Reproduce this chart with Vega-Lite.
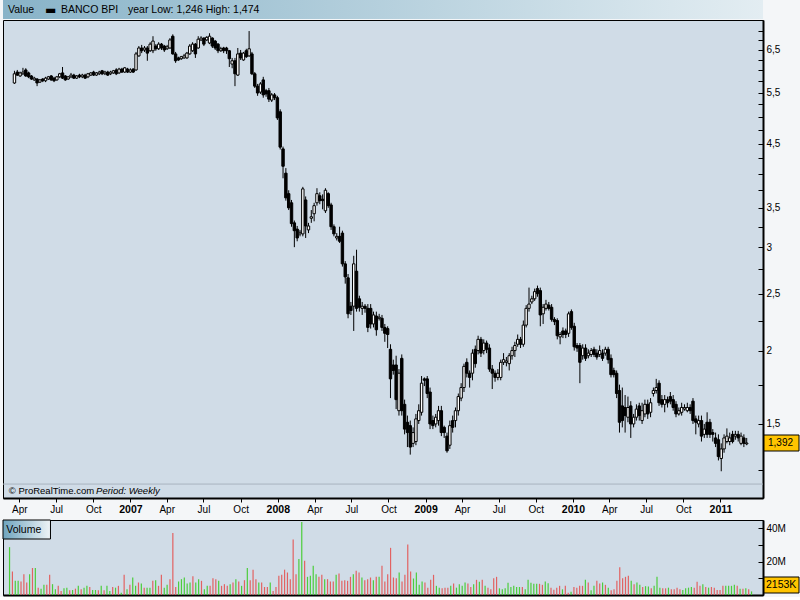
{
"$schema": "https://vega.github.io/schema/vega-lite/v6.json",
"background": "#f4f6f8",
"padding": {"left": 2, "top": 0, "right": 0, "bottom": 0},
"spacing": 4,
"resolve": {"scale": {"x": "independent", "y": "independent"}},
"config": {
  "view": {"stroke": "black", "strokeWidth": 1, "fill": "#d0dce7"},
  "axis": {"labelFont": "Liberation Sans", "labelColor": "black", "domainColor": "black", "tickColor": "black", "grid": false, "title": null},
  "text": {"font": "Liberation Sans", "color": "black"}
},
"datasets": {"w": [
{"d":"2006-03-20","o":5.71,"h":5.99,"l":5.69,"c":5.92,"v":28.7},
{"d":"2006-03-27","o":5.96,"h":6.01,"l":5.87,"c":5.89,"v":14.1},
{"d":"2006-04-03","o":5.87,"h":5.97,"l":5.85,"c":5.94,"v":8.5},
{"d":"2006-04-10","o":5.92,"h":6.06,"l":5.89,"c":5.96,"v":8.5},
{"d":"2006-04-17","o":6.01,"h":6.05,"l":5.85,"c":5.87,"v":8.1},
{"d":"2006-04-24","o":5.94,"h":5.97,"l":5.82,"c":5.85,"v":12.5},
{"d":"2006-05-01","o":5.87,"h":5.89,"l":5.78,"c":5.80,"v":7.5},
{"d":"2006-05-08","o":5.78,"h":5.85,"l":5.76,"c":5.82,"v":12.5},
{"d":"2006-05-15","o":5.80,"h":5.82,"l":5.64,"c":5.71,"v":16.2},
{"d":"2006-05-22","o":5.73,"h":5.80,"l":5.71,"c":5.78,"v":16.2},
{"d":"2006-05-29","o":5.80,"h":5.82,"l":5.73,"c":5.76,"v":4.4},
{"d":"2006-06-05","o":5.76,"h":5.85,"l":5.73,"c":5.82,"v":3.8},
{"d":"2006-06-12","o":5.80,"h":5.87,"l":5.78,"c":5.85,"v":6.1},
{"d":"2006-06-19","o":5.87,"h":5.89,"l":5.76,"c":5.78,"v":6.1},
{"d":"2006-06-26","o":5.82,"h":5.85,"l":5.73,"c":5.76,"v":12.1},
{"d":"2006-07-03","o":5.78,"h":5.87,"l":5.76,"c":5.85,"v":6.5},
{"d":"2006-07-10","o":5.85,"h":5.94,"l":5.82,"c":5.92,"v":3.4},
{"d":"2006-07-17","o":5.94,"h":6.08,"l":5.80,"c":5.82,"v":5.5},
{"d":"2006-07-24","o":5.87,"h":5.89,"l":5.76,"c":5.78,"v":2.4},
{"d":"2006-07-31","o":5.80,"h":5.87,"l":5.78,"c":5.85,"v":4.0},
{"d":"2006-08-07","o":5.85,"h":5.94,"l":5.82,"c":5.89,"v":4.4},
{"d":"2006-08-14","o":5.89,"h":5.92,"l":5.80,"c":5.82,"v":2.8},
{"d":"2006-08-21","o":5.82,"h":5.89,"l":5.80,"c":5.87,"v":3.0},
{"d":"2006-08-28","o":5.89,"h":5.92,"l":5.82,"c":5.85,"v":3.8},
{"d":"2006-09-04","o":5.85,"h":5.92,"l":5.82,"c":5.89,"v":5.5},
{"d":"2006-09-11","o":5.89,"h":5.92,"l":5.80,"c":5.82,"v":3.4},
{"d":"2006-09-18","o":5.85,"h":5.94,"l":5.82,"c":5.92,"v":4.4},
{"d":"2006-09-25","o":5.89,"h":5.96,"l":5.87,"c":5.94,"v":5.5},
{"d":"2006-10-02","o":5.96,"h":5.99,"l":5.87,"c":5.89,"v":4.8},
{"d":"2006-10-09","o":5.89,"h":5.96,"l":5.87,"c":5.94,"v":3.0},
{"d":"2006-10-16","o":5.92,"h":5.99,"l":5.89,"c":5.96,"v":3.0},
{"d":"2006-10-23","o":5.99,"h":6.01,"l":5.89,"c":5.92,"v":2.8},
{"d":"2006-10-30","o":5.92,"h":5.99,"l":5.89,"c":5.96,"v":5.5},
{"d":"2006-11-06","o":5.96,"h":5.99,"l":5.87,"c":5.89,"v":2.8},
{"d":"2006-11-13","o":5.92,"h":5.99,"l":5.89,"c":5.96,"v":5.5},
{"d":"2006-11-20","o":5.94,"h":6.01,"l":5.92,"c":5.99,"v":2.4},
{"d":"2006-11-27","o":6.01,"h":6.05,"l":5.89,"c":5.92,"v":4.8},
{"d":"2006-12-04","o":5.94,"h":6.06,"l":5.92,"c":6.03,"v":4.4},
{"d":"2006-12-11","o":6.03,"h":6.06,"l":5.94,"c":5.96,"v":5.5},
{"d":"2006-12-18","o":5.96,"h":6.08,"l":5.94,"c":6.06,"v":1.4},
{"d":"2006-12-25","o":6.03,"h":6.06,"l":5.94,"c":5.96,"v":12.1},
{"d":"2007-01-01","o":5.96,"h":6.05,"l":5.94,"c":6.01,"v":3.4},
{"d":"2007-01-08","o":6.03,"h":6.05,"l":5.94,"c":5.96,"v":6.1},
{"d":"2007-01-15","o":6.01,"h":6.45,"l":5.99,"c":6.40,"v":10.5},
{"d":"2007-01-22","o":6.35,"h":6.60,"l":6.33,"c":6.55,"v":5.5},
{"d":"2007-01-29","o":6.55,"h":6.63,"l":6.42,"c":6.48,"v":7.5},
{"d":"2007-02-05","o":6.50,"h":6.60,"l":6.45,"c":6.55,"v":6.9},
{"d":"2007-02-12","o":6.55,"h":6.60,"l":6.23,"c":6.42,"v":4.4},
{"d":"2007-02-19","o":6.48,"h":6.70,"l":6.45,"c":6.65,"v":4.4},
{"d":"2007-02-26","o":6.48,"h":6.86,"l":6.42,"c":6.73,"v":4.4},
{"d":"2007-03-05","o":6.60,"h":6.65,"l":6.48,"c":6.53,"v":8.5},
{"d":"2007-03-12","o":6.53,"h":6.70,"l":6.50,"c":6.65,"v":8.9},
{"d":"2007-03-19","o":6.65,"h":6.68,"l":6.50,"c":6.55,"v":5.5},
{"d":"2007-03-26","o":6.60,"h":6.63,"l":6.45,"c":6.50,"v":12.1},
{"d":"2007-04-02","o":6.53,"h":6.63,"l":6.50,"c":6.58,"v":4.4},
{"d":"2007-04-09","o":6.55,"h":6.81,"l":6.53,"c":6.76,"v":6.1},
{"d":"2007-04-16","o":6.86,"h":6.91,"l":6.38,"c":6.40,"v":9.5},
{"d":"2007-04-23","o":6.40,"h":6.45,"l":6.18,"c":6.23,"v":37.2},
{"d":"2007-04-30","o":6.30,"h":6.33,"l":6.23,"c":6.25,"v":4.8},
{"d":"2007-05-07","o":6.28,"h":6.35,"l":6.25,"c":6.33,"v":8.1},
{"d":"2007-05-14","o":6.30,"h":6.40,"l":6.28,"c":6.35,"v":9.5},
{"d":"2007-05-21","o":6.30,"h":6.45,"l":6.28,"c":6.42,"v":10.5},
{"d":"2007-05-28","o":6.40,"h":6.65,"l":6.38,"c":6.60,"v":6.9},
{"d":"2007-06-04","o":6.48,"h":6.70,"l":6.45,"c":6.65,"v":7.5},
{"d":"2007-06-11","o":6.65,"h":6.68,"l":6.30,"c":6.40,"v":11.3},
{"d":"2007-06-18","o":6.55,"h":6.86,"l":6.53,"c":6.78,"v":7.5},
{"d":"2007-06-25","o":6.76,"h":6.86,"l":6.73,"c":6.81,"v":9.5},
{"d":"2007-07-02","o":6.81,"h":6.83,"l":6.60,"c":6.65,"v":8.5},
{"d":"2007-07-09","o":6.76,"h":6.86,"l":6.73,"c":6.83,"v":3.4},
{"d":"2007-07-16","o":6.68,"h":6.94,"l":6.65,"c":6.86,"v":5.5},
{"d":"2007-07-23","o":6.81,"h":6.83,"l":6.55,"c":6.60,"v":5.5},
{"d":"2007-07-30","o":6.73,"h":6.76,"l":6.50,"c":6.55,"v":10.1},
{"d":"2007-08-06","o":6.65,"h":6.68,"l":6.42,"c":6.48,"v":9.5},
{"d":"2007-08-13","o":6.48,"h":6.58,"l":6.45,"c":6.53,"v":8.5},
{"d":"2007-08-20","o":6.55,"h":6.58,"l":6.42,"c":6.48,"v":5.5},
{"d":"2007-08-27","o":6.55,"h":6.58,"l":6.40,"c":6.48,"v":6.5},
{"d":"2007-09-03","o":6.48,"h":6.50,"l":6.08,"c":6.28,"v":5.5},
{"d":"2007-09-10","o":6.15,"h":6.30,"l":6.05,"c":6.23,"v":6.5},
{"d":"2007-09-17","o":6.23,"h":6.30,"l":5.64,"c":5.92,"v":7.5},
{"d":"2007-09-24","o":5.89,"h":6.55,"l":5.87,"c":6.40,"v":9.5},
{"d":"2007-10-01","o":6.42,"h":6.50,"l":6.25,"c":6.30,"v":8.1},
{"d":"2007-10-08","o":6.25,"h":6.45,"l":6.23,"c":6.42,"v":5.5},
{"d":"2007-10-15","o":6.48,"h":6.53,"l":6.30,"c":6.33,"v":8.9},
{"d":"2007-10-22","o":6.35,"h":7.00,"l":6.33,"c":6.53,"v":16.2},
{"d":"2007-10-29","o":6.40,"h":6.45,"l":5.89,"c":5.92,"v":8.9},
{"d":"2007-11-05","o":5.92,"h":5.96,"l":5.60,"c":5.64,"v":15.2},
{"d":"2007-11-12","o":5.64,"h":5.69,"l":5.43,"c":5.49,"v":9.5},
{"d":"2007-11-19","o":5.51,"h":5.73,"l":5.47,"c":5.69,"v":7.5},
{"d":"2007-11-26","o":5.78,"h":5.85,"l":5.39,"c":5.45,"v":7.5},
{"d":"2007-12-03","o":5.54,"h":5.58,"l":5.41,"c":5.47,"v":4.8},
{"d":"2007-12-10","o":5.54,"h":5.60,"l":5.30,"c":5.36,"v":4.8},
{"d":"2007-12-17","o":5.34,"h":5.49,"l":5.30,"c":5.45,"v":7.5},
{"d":"2007-12-24","o":5.45,"h":5.49,"l":5.34,"c":5.39,"v":2.4},
{"d":"2007-12-31","o":5.39,"h":5.43,"l":4.94,"c":4.98,"v":4.8},
{"d":"2008-01-07","o":5.10,"h":5.15,"l":4.40,"c":4.44,"v":11.5},
{"d":"2008-01-14","o":4.41,"h":4.45,"l":3.93,"c":4.12,"v":12.1},
{"d":"2008-01-21","o":4.01,"h":4.09,"l":3.60,"c":3.64,"v":15.2},
{"d":"2008-01-28","o":3.70,"h":3.75,"l":3.47,"c":3.50,"v":13.5},
{"d":"2008-02-04","o":3.57,"h":3.61,"l":3.25,"c":3.29,"v":9.5},
{"d":"2008-02-11","o":3.30,"h":3.33,"l":3.00,"c":3.20,"v":33.3},
{"d":"2008-02-18","o":3.22,"h":3.26,"l":3.07,"c":3.11,"v":12.5},
{"d":"2008-02-25","o":3.16,"h":3.21,"l":3.13,"c":3.18,"v":21.6},
{"d":"2008-03-03","o":3.16,"h":3.80,"l":3.13,"c":3.77,"v":43.8},
{"d":"2008-03-10","o":3.61,"h":3.66,"l":3.11,"c":3.26,"v":20.6},
{"d":"2008-03-17","o":3.21,"h":3.30,"l":3.17,"c":3.26,"v":10.9},
{"d":"2008-03-24","o":3.36,"h":3.47,"l":3.30,"c":3.38,"v":11.5},
{"d":"2008-03-31","o":3.42,"h":3.57,"l":3.32,"c":3.53,"v":17.6},
{"d":"2008-04-07","o":3.57,"h":3.78,"l":3.53,"c":3.70,"v":12.5},
{"d":"2008-04-14","o":3.67,"h":3.72,"l":3.55,"c":3.60,"v":10.9},
{"d":"2008-04-21","o":3.62,"h":3.69,"l":3.48,"c":3.60,"v":12.1},
{"d":"2008-04-28","o":3.46,"h":3.78,"l":3.43,"c":3.75,"v":9.5},
{"d":"2008-05-05","o":3.70,"h":3.72,"l":3.50,"c":3.53,"v":9.5},
{"d":"2008-05-12","o":3.54,"h":3.57,"l":3.21,"c":3.25,"v":8.1},
{"d":"2008-05-19","o":3.25,"h":3.28,"l":3.13,"c":3.16,"v":8.1},
{"d":"2008-05-26","o":3.11,"h":3.17,"l":3.08,"c":3.13,"v":12.1},
{"d":"2008-06-02","o":3.13,"h":3.25,"l":3.05,"c":3.07,"v":12.9},
{"d":"2008-06-09","o":3.17,"h":3.20,"l":2.78,"c":2.81,"v":8.5},
{"d":"2008-06-16","o":2.81,"h":2.84,"l":2.60,"c":2.67,"v":8.9},
{"d":"2008-06-23","o":2.66,"h":2.70,"l":2.27,"c":2.31,"v":8.5},
{"d":"2008-06-30","o":2.38,"h":2.42,"l":2.30,"c":2.34,"v":10.9},
{"d":"2008-07-07","o":2.38,"h":2.90,"l":2.16,"c":2.81,"v":12.5},
{"d":"2008-07-14","o":2.73,"h":2.97,"l":2.33,"c":2.36,"v":14.5},
{"d":"2008-07-21","o":2.45,"h":2.48,"l":2.33,"c":2.37,"v":13.5},
{"d":"2008-07-28","o":2.36,"h":2.42,"l":2.30,"c":2.38,"v":10.5},
{"d":"2008-08-04","o":2.38,"h":2.40,"l":2.32,"c":2.36,"v":8.9},
{"d":"2008-08-11","o":2.36,"h":2.40,"l":2.15,"c":2.19,"v":9.5},
{"d":"2008-08-18","o":2.36,"h":2.40,"l":2.18,"c":2.22,"v":10.5},
{"d":"2008-08-25","o":2.22,"h":2.33,"l":2.19,"c":2.30,"v":8.9},
{"d":"2008-09-01","o":2.29,"h":2.33,"l":2.12,"c":2.17,"v":10.9},
{"d":"2008-09-08","o":2.27,"h":2.31,"l":2.25,"c":2.28,"v":10.9},
{"d":"2008-09-15","o":2.27,"h":2.30,"l":2.16,"c":2.19,"v":17.6},
{"d":"2008-09-22","o":2.19,"h":2.22,"l":2.07,"c":2.14,"v":8.1},
{"d":"2008-09-29","o":2.18,"h":2.20,"l":2.02,"c":2.13,"v":12.5},
{"d":"2008-10-06","o":2.01,"h":2.05,"l":1.66,"c":1.79,"v":28.3},
{"d":"2008-10-13","o":1.89,"h":1.93,"l":1.82,"c":1.85,"v":10.5},
{"d":"2008-10-20","o":1.89,"h":1.96,"l":1.59,"c":1.65,"v":10.1},
{"d":"2008-10-27","o":1.58,"h":1.86,"l":1.55,"c":1.83,"v":13.5},
{"d":"2008-11-03","o":1.94,"h":1.97,"l":1.55,"c":1.58,"v":8.1},
{"d":"2008-11-10","o":1.62,"h":1.65,"l":1.44,"c":1.47,"v":12.1},
{"d":"2008-11-17","o":1.51,"h":1.55,"l":1.37,"c":1.45,"v":30.3},
{"d":"2008-11-24","o":1.49,"h":1.52,"l":1.33,"c":1.37,"v":14.1},
{"d":"2008-12-01","o":1.39,"h":1.48,"l":1.37,"c":1.45,"v":9.9},
{"d":"2008-12-08","o":1.40,"h":1.56,"l":1.38,"c":1.53,"v":13.5},
{"d":"2008-12-15","o":1.52,"h":1.62,"l":1.50,"c":1.58,"v":6.1},
{"d":"2008-12-22","o":1.57,"h":1.81,"l":1.55,"c":1.76,"v":8.1},
{"d":"2008-12-29","o":1.79,"h":1.80,"l":1.74,"c":1.78,"v":7.5},
{"d":"2009-01-05","o":1.79,"h":1.81,"l":1.66,"c":1.69,"v":4.4},
{"d":"2009-01-12","o":1.70,"h":1.73,"l":1.47,"c":1.50,"v":9.1},
{"d":"2009-01-19","o":1.52,"h":1.55,"l":1.47,"c":1.49,"v":12.1},
{"d":"2009-01-26","o":1.50,"h":1.56,"l":1.48,"c":1.54,"v":5.5},
{"d":"2009-02-02","o":1.52,"h":1.61,"l":1.49,"c":1.58,"v":4.4},
{"d":"2009-02-09","o":1.58,"h":1.61,"l":1.43,"c":1.45,"v":4.0},
{"d":"2009-02-16","o":1.48,"h":1.49,"l":1.42,"c":1.45,"v":4.4},
{"d":"2009-02-23","o":1.43,"h":1.45,"l":1.34,"c":1.35,"v":4.4},
{"d":"2009-03-02","o":1.38,"h":1.52,"l":1.36,"c":1.49,"v":5.5},
{"d":"2009-03-09","o":1.52,"h":1.55,"l":1.45,"c":1.48,"v":6.9},
{"d":"2009-03-16","o":1.52,"h":1.60,"l":1.48,"c":1.58,"v":4.4},
{"d":"2009-03-23","o":1.58,"h":1.69,"l":1.55,"c":1.67,"v":6.5},
{"d":"2009-03-30","o":1.66,"h":1.76,"l":1.64,"c":1.73,"v":5.5},
{"d":"2009-04-06","o":1.73,"h":1.90,"l":1.70,"c":1.88,"v":7.5},
{"d":"2009-04-13","o":1.91,"h":1.94,"l":1.80,"c":1.83,"v":6.9},
{"d":"2009-04-20","o":1.83,"h":1.85,"l":1.73,"c":1.80,"v":4.8},
{"d":"2009-04-27","o":1.83,"h":2.01,"l":1.78,"c":1.98,"v":6.5},
{"d":"2009-05-04","o":2.01,"h":2.04,"l":1.87,"c":1.90,"v":9.1},
{"d":"2009-05-11","o":2.00,"h":2.12,"l":1.97,"c":2.09,"v":7.9},
{"d":"2009-05-18","o":2.09,"h":2.11,"l":1.95,"c":1.98,"v":9.1},
{"d":"2009-05-25","o":2.00,"h":2.09,"l":1.97,"c":2.06,"v":5.5},
{"d":"2009-06-01","o":2.06,"h":2.08,"l":1.98,"c":2.01,"v":4.4},
{"d":"2009-06-08","o":2.02,"h":2.05,"l":1.84,"c":1.86,"v":3.4},
{"d":"2009-06-15","o":1.86,"h":1.89,"l":1.72,"c":1.83,"v":10.1},
{"d":"2009-06-22","o":1.83,"h":1.85,"l":1.77,"c":1.80,"v":10.9},
{"d":"2009-06-29","o":1.80,"h":1.86,"l":1.78,"c":1.83,"v":4.0},
{"d":"2009-07-06","o":1.80,"h":1.93,"l":1.78,"c":1.91,"v":3.4},
{"d":"2009-07-13","o":1.91,"h":1.98,"l":1.89,"c":1.93,"v":4.0},
{"d":"2009-07-20","o":1.91,"h":1.95,"l":1.88,"c":1.92,"v":7.3},
{"d":"2009-07-27","o":1.90,"h":1.98,"l":1.85,"c":1.96,"v":4.8},
{"d":"2009-08-03","o":1.96,"h":2.03,"l":1.93,"c":2.00,"v":5.5},
{"d":"2009-08-10","o":2.00,"h":2.07,"l":1.95,"c":2.04,"v":4.8},
{"d":"2009-08-17","o":2.05,"h":2.13,"l":2.03,"c":2.09,"v":4.8},
{"d":"2009-08-24","o":2.09,"h":2.11,"l":2.02,"c":2.05,"v":4.8},
{"d":"2009-08-31","o":2.05,"h":2.25,"l":2.03,"c":2.21,"v":3.4},
{"d":"2009-09-07","o":2.21,"h":2.39,"l":2.19,"c":2.36,"v":9.1},
{"d":"2009-09-14","o":2.36,"h":2.56,"l":2.33,"c":2.40,"v":7.3},
{"d":"2009-09-21","o":2.42,"h":2.48,"l":2.40,"c":2.45,"v":6.7},
{"d":"2009-09-28","o":2.45,"h":2.55,"l":2.43,"c":2.52,"v":6.7},
{"d":"2009-10-05","o":2.55,"h":2.58,"l":2.47,"c":2.50,"v":6.7},
{"d":"2009-10-12","o":2.53,"h":2.56,"l":2.20,"c":2.30,"v":6.1},
{"d":"2009-10-19","o":2.31,"h":2.40,"l":2.22,"c":2.37,"v":8.1},
{"d":"2009-10-26","o":2.36,"h":2.44,"l":2.34,"c":2.40,"v":7.1},
{"d":"2009-11-02","o":2.39,"h":2.42,"l":2.34,"c":2.36,"v":4.4},
{"d":"2009-11-09","o":2.37,"h":2.40,"l":2.24,"c":2.26,"v":3.2},
{"d":"2009-11-16","o":2.26,"h":2.28,"l":2.21,"c":2.24,"v":4.4},
{"d":"2009-11-23","o":2.25,"h":2.27,"l":2.09,"c":2.12,"v":5.5},
{"d":"2009-11-30","o":2.11,"h":2.15,"l":2.05,"c":2.13,"v":3.4},
{"d":"2009-12-07","o":2.16,"h":2.19,"l":2.10,"c":2.13,"v":5.5},
{"d":"2009-12-14","o":2.16,"h":2.18,"l":2.10,"c":2.13,"v":1.4},
{"d":"2009-12-21","o":2.14,"h":2.33,"l":2.11,"c":2.31,"v":2.0},
{"d":"2009-12-28","o":2.33,"h":2.35,"l":2.17,"c":2.19,"v":4.8},
{"d":"2010-01-04","o":2.20,"h":2.23,"l":2.00,"c":2.03,"v":4.4},
{"d":"2010-01-11","o":2.04,"h":2.06,"l":1.99,"c":2.02,"v":5.5},
{"d":"2010-01-18","o":2.04,"h":2.06,"l":1.76,"c":1.91,"v":5.5},
{"d":"2010-01-25","o":1.96,"h":2.05,"l":1.93,"c":2.02,"v":9.1},
{"d":"2010-02-01","o":2.02,"h":2.05,"l":1.92,"c":1.94,"v":7.5},
{"d":"2010-02-08","o":1.96,"h":2.01,"l":1.94,"c":1.98,"v":2.8},
{"d":"2010-02-15","o":1.97,"h":2.02,"l":1.95,"c":2.00,"v":5.5},
{"d":"2010-02-22","o":2.01,"h":2.03,"l":1.95,"c":1.97,"v":8.5},
{"d":"2010-03-01","o":1.98,"h":2.01,"l":1.93,"c":1.95,"v":6.9},
{"d":"2010-03-08","o":1.97,"h":2.04,"l":1.95,"c":2.00,"v":7.5},
{"d":"2010-03-15","o":1.98,"h":2.01,"l":1.92,"c":1.94,"v":6.1},
{"d":"2010-03-22","o":1.98,"h":2.03,"l":1.96,"c":2.01,"v":4.4},
{"d":"2010-03-29","o":2.01,"h":2.03,"l":1.90,"c":1.93,"v":2.8},
{"d":"2010-04-05","o":1.94,"h":1.97,"l":1.80,"c":1.82,"v":3.4},
{"d":"2010-04-12","o":1.85,"h":1.87,"l":1.80,"c":1.82,"v":8.5},
{"d":"2010-04-19","o":1.83,"h":1.85,"l":1.66,"c":1.69,"v":16.6},
{"d":"2010-04-26","o":1.71,"h":1.75,"l":1.45,"c":1.51,"v":10.1},
{"d":"2010-05-03","o":1.61,"h":1.73,"l":1.48,"c":1.52,"v":10.9},
{"d":"2010-05-10","o":1.60,"h":1.68,"l":1.45,"c":1.55,"v":11.5},
{"d":"2010-05-17","o":1.54,"h":1.67,"l":1.51,"c":1.60,"v":8.5},
{"d":"2010-05-24","o":1.61,"h":1.64,"l":1.42,"c":1.50,"v":6.5},
{"d":"2010-05-31","o":1.50,"h":1.56,"l":1.48,"c":1.54,"v":7.5},
{"d":"2010-06-07","o":1.54,"h":1.62,"l":1.52,"c":1.59,"v":6.1},
{"d":"2010-06-14","o":1.61,"h":1.63,"l":1.52,"c":1.55,"v":4.8},
{"d":"2010-06-21","o":1.52,"h":1.63,"l":1.50,"c":1.58,"v":5.3},
{"d":"2010-06-28","o":1.56,"h":1.65,"l":1.54,"c":1.62,"v":5.1},
{"d":"2010-07-05","o":1.62,"h":1.65,"l":1.53,"c":1.56,"v":4.0},
{"d":"2010-07-12","o":1.57,"h":1.66,"l":1.54,"c":1.63,"v":5.5},
{"d":"2010-07-19","o":1.69,"h":1.73,"l":1.67,"c":1.71,"v":10.9},
{"d":"2010-07-26","o":1.71,"h":1.79,"l":1.69,"c":1.73,"v":4.4},
{"d":"2010-08-02","o":1.76,"h":1.78,"l":1.61,"c":1.63,"v":4.0},
{"d":"2010-08-09","o":1.65,"h":1.68,"l":1.60,"c":1.62,"v":4.0},
{"d":"2010-08-16","o":1.62,"h":1.68,"l":1.57,"c":1.65,"v":4.4},
{"d":"2010-08-23","o":1.65,"h":1.67,"l":1.60,"c":1.63,"v":3.4},
{"d":"2010-08-30","o":1.67,"h":1.70,"l":1.62,"c":1.64,"v":3.4},
{"d":"2010-09-06","o":1.65,"h":1.68,"l":1.58,"c":1.60,"v":4.4},
{"d":"2010-09-13","o":1.62,"h":1.64,"l":1.54,"c":1.56,"v":3.4},
{"d":"2010-09-20","o":1.56,"h":1.60,"l":1.55,"c":1.58,"v":3.0},
{"d":"2010-09-27","o":1.57,"h":1.63,"l":1.55,"c":1.60,"v":4.0},
{"d":"2010-10-04","o":1.59,"h":1.62,"l":1.58,"c":1.60,"v":4.4},
{"d":"2010-10-11","o":1.58,"h":1.63,"l":1.57,"c":1.60,"v":4.8},
{"d":"2010-10-18","o":1.60,"h":1.62,"l":1.56,"c":1.58,"v":4.4},
{"d":"2010-10-25","o":1.64,"h":1.66,"l":1.50,"c":1.52,"v":7.9},
{"d":"2010-11-01","o":1.53,"h":1.55,"l":1.44,"c":1.51,"v":5.5},
{"d":"2010-11-08","o":1.50,"h":1.55,"l":1.48,"c":1.52,"v":6.5},
{"d":"2010-11-15","o":1.52,"h":1.55,"l":1.40,"c":1.43,"v":4.8},
{"d":"2010-11-22","o":1.44,"h":1.50,"l":1.42,"c":1.47,"v":4.4},
{"d":"2010-11-29","o":1.51,"h":1.57,"l":1.42,"c":1.44,"v":4.8},
{"d":"2010-12-06","o":1.51,"h":1.53,"l":1.42,"c":1.44,"v":4.4},
{"d":"2010-12-13","o":1.45,"h":1.47,"l":1.40,"c":1.44,"v":3.0},
{"d":"2010-12-20","o":1.42,"h":1.45,"l":1.37,"c":1.39,"v":3.0},
{"d":"2010-12-27","o":1.41,"h":1.44,"l":1.30,"c":1.32,"v":5.5},
{"d":"2011-01-03","o":1.31,"h":1.39,"l":1.246,"c":1.36,"v":5.5},
{"d":"2011-01-10","o":1.36,"h":1.44,"l":1.34,"c":1.42,"v":5.5},
{"d":"2011-01-17","o":1.40,"h":1.474,"l":1.39,"c":1.43,"v":5.5},
{"d":"2011-01-24","o":1.40,"h":1.45,"l":1.38,"c":1.42,"v":6.1},
{"d":"2011-01-31","o":1.44,"h":1.46,"l":1.39,"c":1.40,"v":5.5},
{"d":"2011-02-07","o":1.43,"h":1.46,"l":1.41,"c":1.44,"v":3.8},
{"d":"2011-02-14","o":1.44,"h":1.46,"l":1.40,"c":1.42,"v":3.8},
{"d":"2011-02-21","o":1.39,"h":1.45,"l":1.38,"c":1.43,"v":4.0},
{"d":"2011-02-28","o":1.42,"h":1.44,"l":1.37,"c":1.39,"v":3.4},
{"d":"2011-03-07","o":1.387,"h":1.42,"l":1.38,"c":1.392,"v":2.153}
]},
"vconcat": [
  {
    "spacing": 0,
    "resolve": {"scale": {"x": "independent", "y": "independent"}},
    "vconcat": [
      {
        "width": 760, "height": 19,
        "view": {"stroke": null, "fill": null},
        "data": {"values": [{}]},
        "layer": [
          {"mark": {"type": "rect", "color": {"gradient": "linear", "x1": 0, "y1": 0, "x2": 1, "y2": 0, "stops": [{"offset": 0, "color": "#88b3c8"}, {"offset": 1, "color": "#e3edf2"}]}},
           "encoding": {"x": {"value": 0}, "x2": {"value": "width"}, "y": {"value": 0}, "y2": {"value": "height"}}},
          {"mark": {"type": "text", "text": "Value", "align": "left", "baseline": "middle", "fontSize": 10.5},
           "encoding": {"x": {"value": 5}, "y": {"value": 10}}},
          {"mark": {"type": "text", "text": "▬", "align": "left", "baseline": "middle", "fontSize": 12, "font": "DejaVu Sans"},
           "encoding": {"x": {"value": 42}, "y": {"value": 10}}},
          {"mark": {"type": "text", "text": "BANCO BPI", "align": "left", "baseline": "middle", "fontSize": 10.5},
           "encoding": {"x": {"value": 58}, "y": {"value": 10}}},
          {"mark": {"type": "text", "text": "year Low: 1,246 High: 1,474", "align": "left", "baseline": "middle", "fontSize": 10.5},
           "encoding": {"x": {"value": 125}, "y": {"value": 10}}}
        ]
      },
      {
        "width": 760, "height": 478,
        "data": {"name": "w"},
        "layer": [
          {
            "mark": {"type": "rule", "color": "black", "strokeWidth": 1},
            "encoding": {
              "x": {"field": "d", "type": "temporal",
                "scale": {"type": "utc", "domain": [{"year": 2006, "month": 3, "date": 4, "utc": true}, {"year": 2011, "month": 4, "date": 4, "utc": true}]},
                "axis": {
                  "orient": "bottom",
                  "tickCount": 60,
                  "values": [
                    {"year": 2006, "month": 4, "date": 1, "utc": true}, {"year": 2006, "month": 7, "date": 1, "utc": true}, {"year": 2006, "month": 10, "date": 1, "utc": true},
                    {"year": 2007, "month": 1, "date": 1, "utc": true}, {"year": 2007, "month": 4, "date": 1, "utc": true}, {"year": 2007, "month": 7, "date": 1, "utc": true}, {"year": 2007, "month": 10, "date": 1, "utc": true},
                    {"year": 2008, "month": 1, "date": 1, "utc": true}, {"year": 2008, "month": 4, "date": 1, "utc": true}, {"year": 2008, "month": 7, "date": 1, "utc": true}, {"year": 2008, "month": 10, "date": 1, "utc": true},
                    {"year": 2009, "month": 1, "date": 1, "utc": true}, {"year": 2009, "month": 4, "date": 1, "utc": true}, {"year": 2009, "month": 7, "date": 1, "utc": true}, {"year": 2009, "month": 10, "date": 1, "utc": true},
                    {"year": 2010, "month": 1, "date": 1, "utc": true}, {"year": 2010, "month": 4, "date": 1, "utc": true}, {"year": 2010, "month": 7, "date": 1, "utc": true}, {"year": 2010, "month": 10, "date": 1, "utc": true},
                    {"year": 2011, "month": 1, "date": 1, "utc": true}
                  ],
                  "labelExpr": "utcmonth(datum.value) == 0 ? utcFormat(datum.value, '%Y') : utcFormat(datum.value, '%b')",
                  "labelFontWeight": {"condition": {"test": "utcmonth(datum.value) == 0", "value": "bold"}, "value": "normal"},
                  "labelFontSize": {"condition": {"test": "utcmonth(datum.value) == 0", "value": 10.5}, "value": 10},
                  "tickSize": 4, "labelPadding": 2, "domainWidth": 2, "labelFlush": false, "labelOverlap": false, "labelBound": false
                }
              },
              "y": {"field": "l", "type": "quantitative",
                "scale": {"type": "log", "domain": [1.122, 7.31], "nice": false, "zero": false},
                "axis": {
                  "orient": "right",
                  "tickCount": 60,
                  "values": [1.25, 1.5, 1.75, 2, 2.25, 2.5, 2.75, 3, 3.25, 3.5, 3.75, 4, 4.25, 4.5, 4.75, 5, 5.25, 5.5, 5.75, 6, 6.25, 6.5, 6.75, 7],
                  "labelExpr": "indexof([1.5, 2, 2.5, 3, 3.5, 4.5, 5.5, 6.5], datum.value) >= 0 ? replace(format(datum.value, '~g'), '.', ',') : ''",
                  "tickSize": -5, "labelPadding": 8, "domainWidth": 2, "labelFontSize": 10,
                  "labelOverlap": false, "labelBound": false, "labelFlush": false
                }
              },
              "y2": {"field": "h"}
            }
          },
          {
            "mark": {"type": "bar", "width": 2.4, "stroke": "black", "strokeWidth": 1},
            "encoding": {
              "x": {"field": "d", "type": "temporal"},
              "y": {"field": "o", "type": "quantitative"},
              "y2": {"field": "c"},
              "fill": {"condition": {"test": "datum.c >= datum.o", "value": "white"}, "value": "black"}
            }
          },
          {
            "data": {"values": [{}]},
            "mark": {"type": "rule", "color": "#a8b3bf", "strokeWidth": 1},
            "encoding": {"y": {"datum": 1.185}}
          },
          {
            "data": {"values": [{}]},
            "mark": {"type": "text", "text": "© ProRealTime.com", "align": "left", "baseline": "middle", "fontSize": 9.5},
            "encoding": {"x": {"datum": {"year": 2006, "month": 3, "date": 6, "utc": true}, "type": "temporal"}, "y": {"datum": 1.153}}
          },
          {
            "data": {"values": [{}]},
            "mark": {"type": "text", "text": "Period: Weekly", "align": "left", "baseline": "middle", "fontSize": 9.5, "fontStyle": "italic"},
            "encoding": {"x": {"datum": {"year": 2006, "month": 10, "date": 8, "utc": true}, "type": "temporal"}, "y": {"datum": 1.153}}
          },
          {
            "data": {"values": [{}]},
            "mark": {"type": "rect", "fill": "#ffc400", "stroke": "black", "strokeWidth": 1, "xOffset": 1, "x2Offset": 36, "yOffset": -8, "y2Offset": 8},
            "encoding": {"x": {"value": "width"}, "x2": {"value": "width"}, "y": {"datum": 1.392}, "y2": {"datum": 1.392}}
          },
          {
            "data": {"values": [{}]},
            "mark": {"type": "text", "text": "1,392", "align": "left", "baseline": "middle", "dx": 5, "fontSize": 10},
            "encoding": {"x": {"value": "width"}, "y": {"datum": 1.392}}
          }
        ]
      }
    ]
  },
  {
    "width": 760, "height": 75,
    "data": {"name": "w"},
    "layer": [
      {
        "mark": {"type": "rule", "strokeWidth": 1.2},
        "encoding": {
          "x": {"field": "d", "type": "temporal",
            "scale": {"type": "utc", "domain": [{"year": 2006, "month": 3, "date": 4, "utc": true}, {"year": 2011, "month": 4, "date": 4, "utc": true}]},
            "axis": {"labels": false, "ticks": false, "domainWidth": 2, "orient": "bottom"}
          },
          "y": {"field": "v", "type": "quantitative",
            "scale": {"domain": [0, 45], "nice": false},
            "axis": {"orient": "right", "values": [10, 20, 30, 40], "tickCount": 20,
              "labelExpr": "datum.value == 20 || datum.value == 40 ? datum.value + 'M' : ''",
              "tickSize": -5, "labelPadding": 8, "domainWidth": 2, "labelFontSize": 10, "labelOverlap": false, "labelBound": false, "labelFlush": false}
          },
          "y2": {"datum": 0},
          "color": {"condition": {"test": "datum.c >= datum.o", "value": "#4ccd3c"}, "value": "#e26262"}
        }
      },
      {
        "data": {"values": [{}]},
        "mark": {"type": "rect", "stroke": "black", "strokeWidth": 1, "color": {"gradient": "linear", "x1": 0, "y1": 0, "x2": 1, "y2": 0, "stops": [{"offset": 0, "color": "#6ea4be"}, {"offset": 1, "color": "#eef4f7"}]}},
        "encoding": {
          "x": {"datum": {"year": 2006, "month": 3, "date": 4, "utc": true}, "type": "temporal"},
          "x2": {"datum": {"year": 2006, "month": 6, "date": 28, "utc": true}},
          "y": {"datum": 45}, "y2": {"datum": 33.6}
        }
      },
      {
        "data": {"values": [{}]},
        "mark": {"type": "text", "text": "Volume", "align": "left", "baseline": "middle", "fontSize": 10.5},
        "encoding": {"x": {"datum": {"year": 2006, "month": 3, "date": 12, "utc": true}, "type": "temporal"}, "y": {"datum": 39.3}}
      },
      {
        "data": {"values": [{}]},
        "mark": {"type": "rect", "fill": "#ffc400", "stroke": "black", "strokeWidth": 1, "xOffset": 1, "x2Offset": 36, "yOffset": -8, "y2Offset": 8},
        "encoding": {"x": {"value": "width"}, "x2": {"value": "width"}, "y": {"datum": 6}, "y2": {"datum": 6}}
      },
      {
        "data": {"values": [{}]},
        "mark": {"type": "text", "text": "2153K", "align": "left", "baseline": "middle", "dx": 3, "fontSize": 10.5},
        "encoding": {"x": {"value": "width"}, "y": {"datum": 6}}
      }
    ]
  }
]
}
